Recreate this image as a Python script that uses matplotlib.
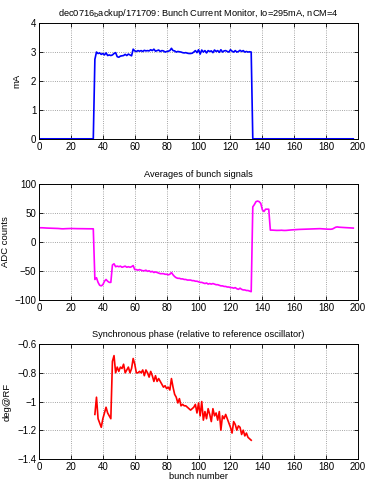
import numpy as np
import matplotlib
matplotlib.use('Agg')
import matplotlib.pyplot as plt

plt.rcParams['font.family'] = ['Liberation Sans', 'DejaVu Sans']
plt.rcParams['font.size'] = 6.8

# bunch current (mA), bunches 0..197
current_off_head = [0.0] * 35
current_fill = [2.75, 3.0, 2.95, 2.97, 2.92, 2.95, 2.9, 2.97, 2.88, 2.9,
                2.88, 2.9, 2.95, 2.98, 2.84, 2.82, 2.86, 2.87, 2.88, 2.92,
                2.88, 2.93, 2.9, 2.87,
                3.1, 3.04, 3.02, 3.05, 3.03, 3.05, 3.02, 3.06, 3.04, 3.05,
                3.04, 3.08, 3.05, 3.1, 3.03, 3.05, 3.07, 3.02, 3.05, 3.04,
                3.0, 3.02, 3.03, 3.05, 3.13, 3.05, 3.04, 3.0, 3.02, 3.01,
                3.0, 2.98, 2.97, 2.98, 2.96, 2.95, 2.95, 2.96, 3.0, 3.05,
                2.98, 3.08, 2.93, 3.07, 3.0, 3.05, 2.97, 3.05, 3.02, 3.04,
                2.98, 3.07, 3.02, 3.05, 2.99, 3.08, 3.0, 3.04, 3.05, 3.02,
                3.0, 3.08, 3.03, 3.0, 3.05, 3.0, 3.02, 3.06, 3.02, 3.05,
                3.0, 3.02, 3.0, 3.01, 3.0]
current_off_tail = [0.0] * 64
current = current_off_head + current_fill + current_off_tail

# average bunch signal (ADC counts), bunches 0..197
signal = [24, 24, 24, 23.8, 23.6, 23.5, 23.4, 23.3, 23.2, 23,
          23, 23, 22.8, 22.5, 22.3, 22.2, 22.4, 22.5, 22.6, 22.7,
          22.8, 22.7, 22.6, 22.5, 22.5, 22.5, 22.4, 22.4, 22.4, 22.3,
          22.3, 22.3, 22.2, 22.2, 22.2,
          -65, -62, -70, -75, -76, -74, -68, -65, -68, -70, -70,
          -40, -38, -43, -42, -43, -42, -44, -43, -42, -44, -43, -44, -43, -41,
          -48, -48, -49, -48, -49, -50, -50, -49, -51, -50, -52, -51, -53,
          -52, -53, -54, -55, -55, -55, -56, -56, -57, -56, -53, -57, -60,
          -62, -63, -63, -64, -64, -65, -65, -66, -66, -66,
          -67, -67, -68, -68, -69, -70, -70, -71, -72, -71,
          -73, -72, -73, -72, -73, -74, -74, -75, -76, -76,
          -77, -77, -78, -78, -79, -79, -80, -79, -81, -82,
          -80, -82, -83, -83, -84, -84, -85, -86,
          60, 64, 69, 70, 69, 66, 55, 52, 56, 56, 56,
          20, 20, 19.8, 19.6, 19.5, 19.5, 19.6, 19.8, 19.5, 19.4,
          19.5, 19.8, 20, 20.3, 20.5, 20.8, 21, 21, 21.2, 21.3,
          21.4, 21.5, 21.5, 21.6, 21.8, 22, 22, 22.1, 22.2, 22.3,
          22.4, 22.5, 22.3, 22.2, 22, 21.8, 21.6, 21.5, 21.5, 22,
          23.5, 25, 25.5, 25, 24.8, 24.6, 24.5, 24.3, 24.2, 24, 23.8, 23.6, 23.5]

# synchronous phase (deg@RF), filled bunches 35..133
phase_start = 35
phase = [-1.09, -0.97, -1.12, -1.15, -1.18, -1.12, -1.08, -1.04, -1.08, -1.10,
         -1.12, -0.72, -0.68, -0.80, -0.76, -0.79, -0.76, -0.77, -0.74, -0.80,
         -0.78, -0.76, -0.80, -0.77, -0.70, -0.74, -0.80, -0.80, -0.79, -0.80,
         -0.78, -0.82, -0.78, -0.80, -0.83, -0.79, -0.82, -0.86, -0.82, -0.86,
         -0.84, -0.86, -0.88, -0.90, -0.89, -0.91, -0.90, -0.92, -0.84, -0.90,
         -0.95, -0.97, -1.01, -0.98, -1.03, -1.02, -1.03, -1.03, -1.04, -1.05,
         -1.06, -1.05, -1.04, -1.02, -1.08, -1.01, -1.10, -1.00, -1.13, -1.07,
         -1.12, -1.05, -1.09, -1.14, -1.05, -1.10, -1.08, -1.13, -1.07, -1.20,
         -1.10, -1.12, -1.09, -1.12, -1.15, -1.18, -1.22, -1.14, -1.16, -1.20,
         -1.17, -1.18, -1.23, -1.20, -1.24, -1.22, -1.25, -1.26, -1.27]


def style(ax, ylim, yticks):
    ax.set_xlim(0, 200)
    ax.set_xticks(range(0, 201, 20))
    ax.set_ylim(*ylim)
    ax.set_yticks(yticks)
    ax.grid(True, linestyle=':', color='#888888', linewidth=0.6)
    ax.tick_params(direction='in', top=True, right=True, length=3, width=0.6,
                   labelsize=7, pad=2)
    for s in ax.spines.values():
        s.set_linewidth(0.7)


fig = plt.figure(figsize=(3.65, 4.82), dpi=100)

ax1 = fig.add_axes([0.107, 0.712, 0.874, 0.240])
ax1.plot(np.arange(len(current)), current, color='#0000ff', lw=1.2)
style(ax1, (0, 4), [0, 1, 2, 3, 4])
ax1.set_ylabel('mA', labelpad=7)
ax1.set_title(r'dec0716$_{\mathrm{b}}$ackup/171709: Bunch Current Monitor, Io=295mA, nCM=4',
              fontsize=6.7, pad=5)

ax2 = fig.add_axes([0.107, 0.378, 0.874, 0.241])
ax2.plot(np.arange(len(signal)), signal, color='#ff00ff', lw=1.2)
style(ax2, (-100, 100), [-100, -50, 0, 50, 100])
ax2.set_ylabel('ADC counts', labelpad=3)
ax2.set_title('Averages of bunch signals', fontsize=6.7, pad=5)

ax3 = fig.add_axes([0.107, 0.048, 0.874, 0.238])
ax3.plot(np.arange(phase_start, phase_start + len(phase)), phase, color='#ff0000', lw=1.2)
style(ax3, (-1.4, -0.6), [-1.4, -1.2, -1.0, -0.8, -0.6])
ax3.set_yticklabels(['\u22121.4', '\u22121.2', '\u22121', '\u22120.8', '\u22120.6'])
ax3.set_ylabel('deg@RF', labelpad=4)
ax3.set_xlabel('bunch number', labelpad=0.5, fontsize=6.7)
ax3.set_title('Synchronous phase (relative to reference oscillator)', fontsize=6.7, pad=5)

fig.savefig('out.png', dpi=100)
